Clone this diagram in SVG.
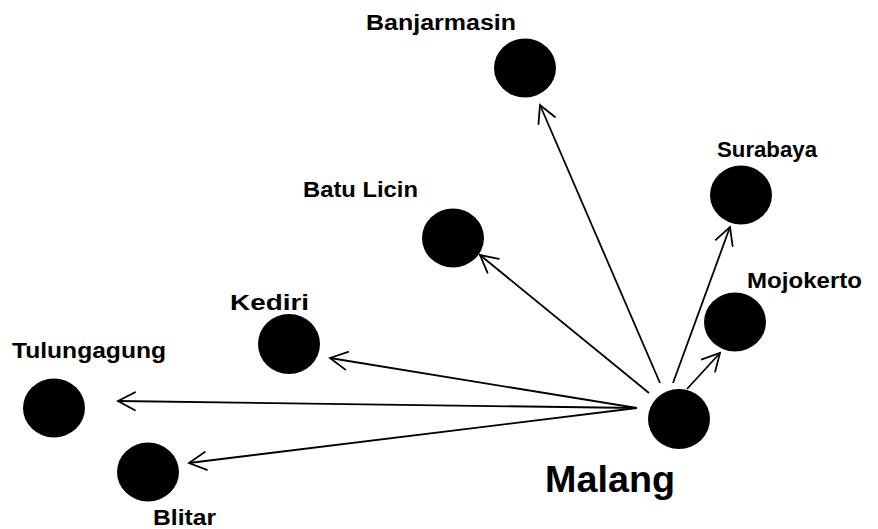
<svg xmlns="http://www.w3.org/2000/svg" width="878" height="529" viewBox="0 0 878 529">
<style>
.node{fill:#000}
.lbl{font-family:"Liberation Sans",Arial,sans-serif;font-weight:bold;font-size:22px;fill:#000}
.big{font-size:37px}
.edge{stroke:#000;stroke-width:1.8;fill:none;marker-end:url(#arr)}
</style>
<defs>
<marker id="arr" markerUnits="userSpaceOnUse" viewBox="-20 -12 22 24" markerWidth="22" markerHeight="24" refX="0" refY="0" orient="auto">
<path d="M-17,-9 L0,0 L-17,9" fill="none" stroke="#000" stroke-width="1.8" stroke-linecap="round" stroke-linejoin="miter"/>
</marker>
</defs>
<rect width="878" height="529" fill="#fff"/>
<g id="connectors">
<line class="edge" x1="660" y1="383" x2="540" y2="105"/>
<line class="edge" x1="673" y1="383" x2="730" y2="227"/>
<line class="edge" x1="687" y1="389" x2="720" y2="353"/>
<line class="edge" x1="649" y1="393" x2="480" y2="255"/>
<line class="edge" x1="637" y1="408" x2="330" y2="358"/>
<line class="edge" x1="637" y1="408" x2="118" y2="401"/>
<line class="edge" x1="637" y1="408" x2="189" y2="463"/>
</g>
<g id="malang">
<ellipse class="node" cx="679" cy="419" rx="31" ry="30"/>
<text class="lbl big" x="545" y="492" textLength="130" lengthAdjust="spacingAndGlyphs">Malang</text>
</g>
<g id="banjarmasin">
<ellipse class="node" cx="525" cy="68" rx="31" ry="29.5"/>
<text class="lbl" x="366" y="30" textLength="150" lengthAdjust="spacingAndGlyphs">Banjarmasin</text>
</g>
<g id="surabaya">
<ellipse class="node" cx="741" cy="195" rx="31" ry="29.5"/>
<text class="lbl" x="717" y="157" textLength="100" lengthAdjust="spacingAndGlyphs">Surabaya</text>
</g>
<g id="mojokerto">
<ellipse class="node" cx="735" cy="322" rx="31" ry="29.5"/>
<text class="lbl" x="747" y="288" textLength="115" lengthAdjust="spacingAndGlyphs">Mojokerto</text>
</g>
<g id="batulicin">
<ellipse class="node" cx="453" cy="238" rx="31" ry="29.5"/>
<text class="lbl" x="303" y="197" textLength="115" lengthAdjust="spacingAndGlyphs">Batu Licin</text>
</g>
<g id="kediri">
<ellipse class="node" cx="289" cy="344" rx="31" ry="30"/>
<text class="lbl" x="230" y="310" textLength="79" lengthAdjust="spacingAndGlyphs">Kediri</text>
</g>
<g id="tulungagung">
<ellipse class="node" cx="54" cy="408" rx="31" ry="29.5"/>
<text class="lbl" x="12" y="358" textLength="154" lengthAdjust="spacingAndGlyphs">Tulungagung</text>
</g>
<g id="blitar">
<ellipse class="node" cx="148" cy="472" rx="31" ry="29.5"/>
<text class="lbl" x="153" y="525" textLength="63" lengthAdjust="spacingAndGlyphs">Blitar</text>
</g>
</svg>
